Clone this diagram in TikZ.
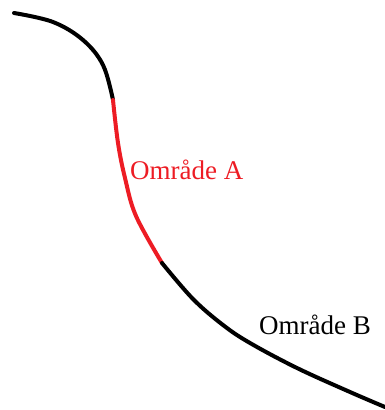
\documentclass[tikz,border=0pt]{standalone}
\usepackage{fontspec}
\setmainfont{Liberation Serif}
\definecolor{paintred}{RGB}{237,28,36}
\tikzset{
  stroke/.style={line width=4pt, line cap=round, line join=round},
  lbl/.style={inner sep=0pt, anchor=base west, font=\fontsize{27}{31}\selectfont}
}
\begin{document}
\begin{tikzpicture}[x=1pt,y=-1pt]
\useasboundingbox (0,0) rectangle (385,410);
\draw[stroke,black] plot[smooth,tension=0.6] coordinates {(14,13) (53,22) (83,40) (103,65) (113,100)};
\draw[stroke,paintred] plot[smooth,tension=0.6] coordinates {(113,100) (118,143) (125,178) (136,216) (162,263)};
\draw[stroke,black] plot[smooth,tension=0.6] coordinates {(162,263) (193,299) (223,325) (250,343) (297,368) (350,392) (385,407)};
\node[lbl,text=paintred] (a) at (130,179) {Område A};
\node[lbl,text=black] (b) at (259,334) {Område B};
\end{tikzpicture}
\end{document}
